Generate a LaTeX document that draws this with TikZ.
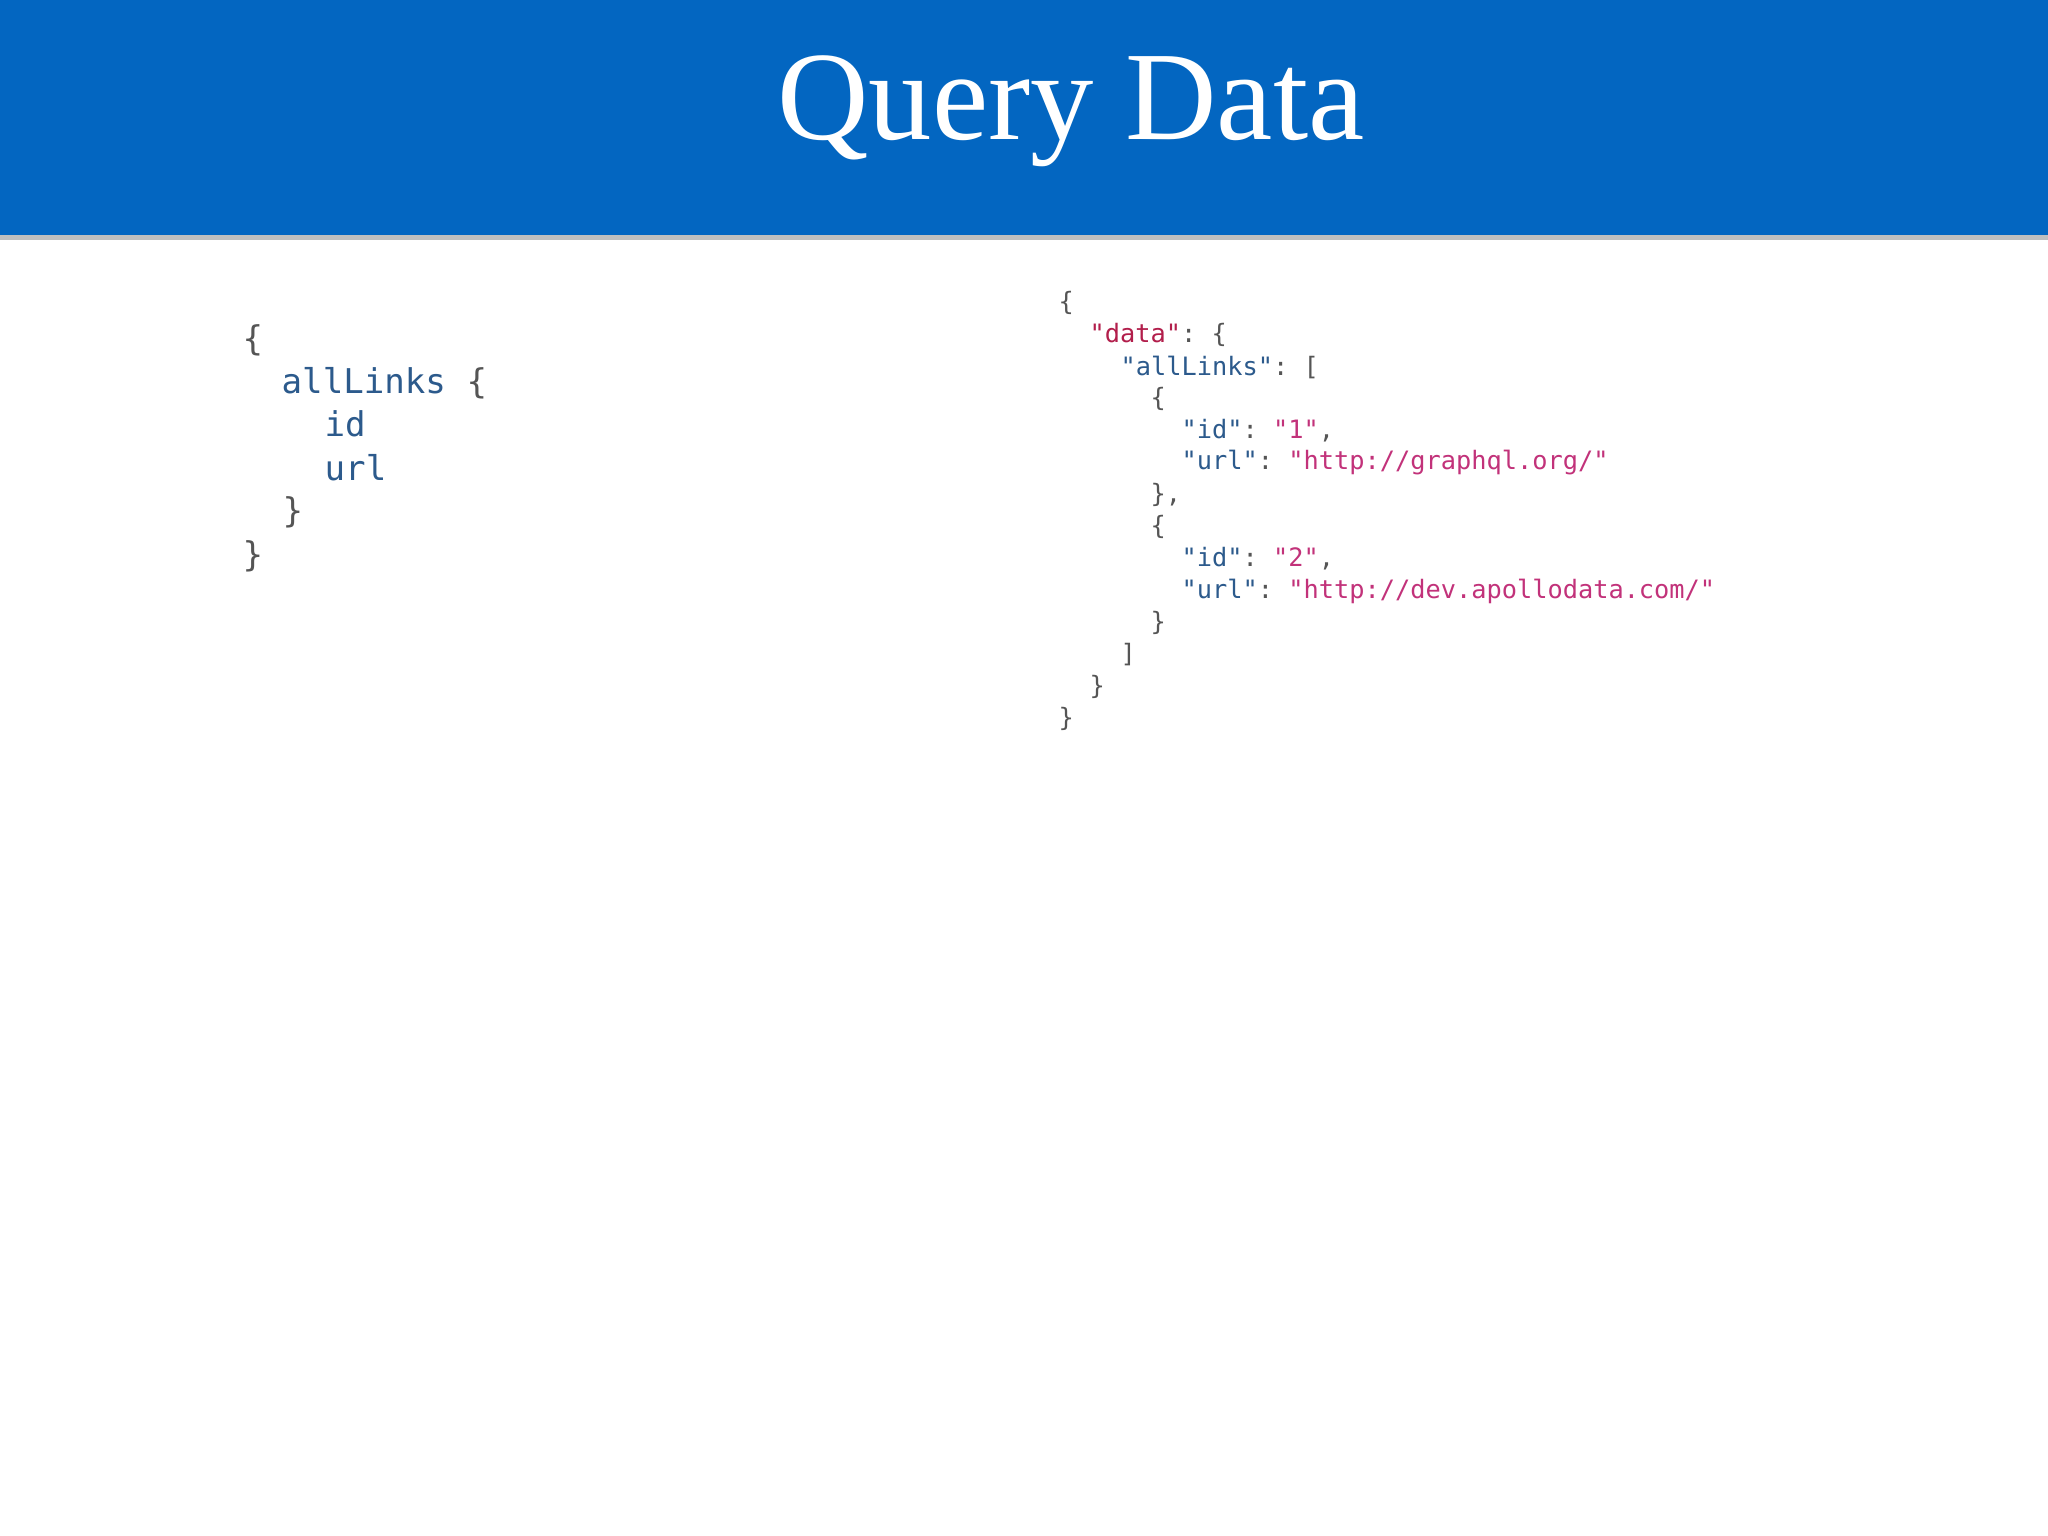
\documentclass[tikz,border=0pt]{standalone}
\usepackage{fontspec}
\setmainfont{Liberation Serif}
\setmonofont{DejaVu Sans Mono}
\definecolor{hdr}{HTML}{0366C1}
\definecolor{kblue}{HTML}{2C5A8C}
\definecolor{pun}{HTML}{555555}
\definecolor{kred}{HTML}{B21E4B}
\definecolor{spink}{HTML}{C2327A}
\newcommand{\K}[1]{\textcolor{kblue}{#1}}
\newcommand{\D}[1]{\textcolor{kred}{#1}}
\newcommand{\Sx}[1]{\textcolor{spink}{#1}}
\begin{document}
\begin{tikzpicture}[x=0.01cm,y=-0.01cm,
  lc/.style={anchor=west,inner sep=0pt,font=\ttfamily\fontsize{9.7pt}{10pt}\selectfont,text=pun},
  rc/.style={anchor=west,inner sep=0pt,font=\ttfamily\fontsize{7.2pt}{8pt}\selectfont,text=pun}]
\useasboundingbox (0,0) rectangle (2048,1536);
\fill[white] (0,0) rectangle (2048,1536);
\fill[black!25] (0,235) rectangle (2048,240);
\fill[hdr] (0,0) rectangle (2048,235);
\node[text=white,font=\fontsize{36pt}{40pt}\selectfont] (title) at (1071,111) {Query Data};
% left query
\node[lc] (l1) at (242,340) {\{};
\node[lc] (l2) at (281,383) {\K{allLinks} \{};
\node[lc] (l3) at (324,424) {\K{id}};
\node[lc] (l4) at (324,468) {\K{url}};
\node[lc] (l5) at (282,512) {\}};
\node[lc] (l6) at (242,556) {\}};
% right result
\node[rc] (r1) at (1058,303) {\{};
\node[rc] (r2) at (1089,335) {\D{"data"}: \{};
\node[rc] (r3) at (1120,367) {\K{"allLinks"}: [};
\node[rc] (r4) at (1150,399) {\{};
\node[rc] (r5) at (1181,431) {\K{"id"}: \Sx{"1"},};
\node[rc] (r6) at (1181,463) {\K{"url"}: \Sx{"http://graphql.org/"}};
\node[rc] (r7) at (1150,495) {\},};
\node[rc] (r8) at (1150,527) {\{};
\node[rc] (r9) at (1181,559) {\K{"id"}: \Sx{"2"},};
\node[rc] (r10) at (1181,591) {\K{"url"}: \Sx{"http://dev.apollodata.com/"}};
\node[rc] (r11) at (1150,623) {\}};
\node[rc] (r12) at (1120,655) {]};
\node[rc] (r13) at (1089,687) {\}};
\node[rc] (r14) at (1058,719) {\}};
\end{tikzpicture}
\end{document}
